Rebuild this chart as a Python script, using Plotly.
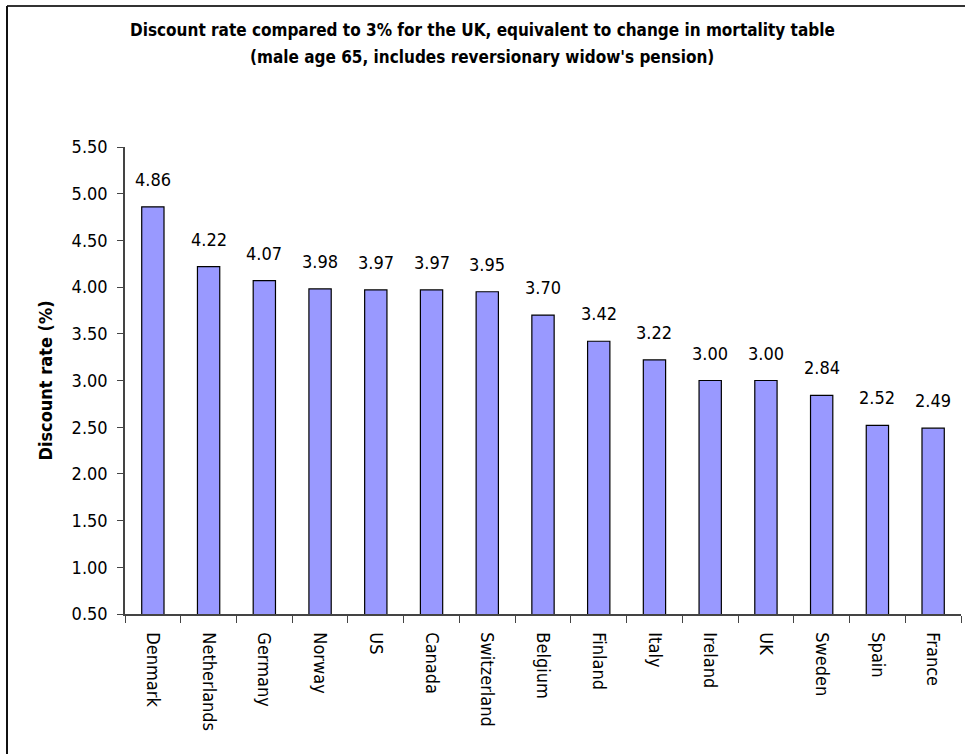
import plotly.graph_objects as go

countries = ["Denmark", "Netherlands", "Germany", "Norway", "US", "Canada", "Switzerland",
             "Belgium", "Finland", "Italy", "Ireland", "UK", "Sweden", "Spain", "France"]
rates = [4.86, 4.22, 4.07, 3.98, 3.97, 3.97, 3.95, 3.70, 3.42, 3.22, 3.00, 3.00, 2.84, 2.52, 2.49]
y_ticks = [0.5, 1.0, 1.5, 2.0, 2.5, 3.0, 3.5, 4.0, 4.5, 5.0, 5.5]
title_lines = ["Discount rate compared to 3% for the UK, equivalent to change in mortality table",
               "(male age 65, includes reversionary widow's pension)"]

FONT = "DejaVu Sans Condensed, Liberation Sans Narrow, sans-serif"

W, H = 965, 754
L, R, T, B = 125, 4, 147, 140
pw, ph = W - L - R, H - T - B

def px(x):
    return (x - L) / pw

def py(y):
    return (H - B - y) / ph

fig = go.Figure(go.Bar(
    x=countries, y=rates,
    marker=dict(color="#9999FF", line=dict(color="#000000", width=1.2)),
    cliponaxis=False,
))

for c, v in zip(countries, rates):
    fig.add_annotation(x=c, y=v, text=f"{v:.2f}", showarrow=False,
                       yanchor="bottom", yshift=15,
                       font=dict(family=FONT, size=18, color="#000"))

for line, ypix in zip(title_lines, [30, 57]):
    fig.add_annotation(xref="paper", yref="paper", x=px(482), y=py(ypix),
                       text=f"<b>{line}</b>", showarrow=False,
                       xanchor="center", yanchor="middle",
                       font=dict(family=FONT, size=17, color="#000"))

fig.update_layout(
    width=W, height=H,
    margin=dict(l=L, r=R, t=T, b=B),
    paper_bgcolor="white", plot_bgcolor="white",
    bargap=0.6,
    showlegend=False,
    font=dict(family=FONT, size=18, color="#000"),
    xaxis=dict(
        tickangle=90, ticks="outside", tickson="boundaries", ticklen=7,
        tickcolor="#444", showline=True, linecolor="#444", linewidth=1.5,
        tickfont=dict(family=FONT, size=18), showgrid=False,
        ticklabelstandoff=13,
    ),
    yaxis=dict(
        range=[0.5, 5.5], tickvals=y_ticks, ticktext=[f"{v:.2f}" for v in y_ticks],
        ticks="outside", ticklen=6, tickcolor="#444", showline=True,
        linecolor="#444", linewidth=1.5, showgrid=False, zeroline=False,
        tickfont=dict(family=FONT, size=18), ticklabelstandoff=6,
        title=dict(text="<b>Discount rate (%)</b>", standoff=14,
                   font=dict(family=FONT, size=18)),
    ),
    shapes=[
        dict(type="line", xref="paper", yref="paper", x0=px(7), x1=px(966), y0=py(6), y1=py(6),
             line=dict(color="#333", width=2)),
        dict(type="line", xref="paper", yref="paper", x0=px(7), x1=px(7), y0=py(6), y1=py(760),
             line=dict(color="#111", width=2)),
    ],
)

fig.write_html("out.html")
